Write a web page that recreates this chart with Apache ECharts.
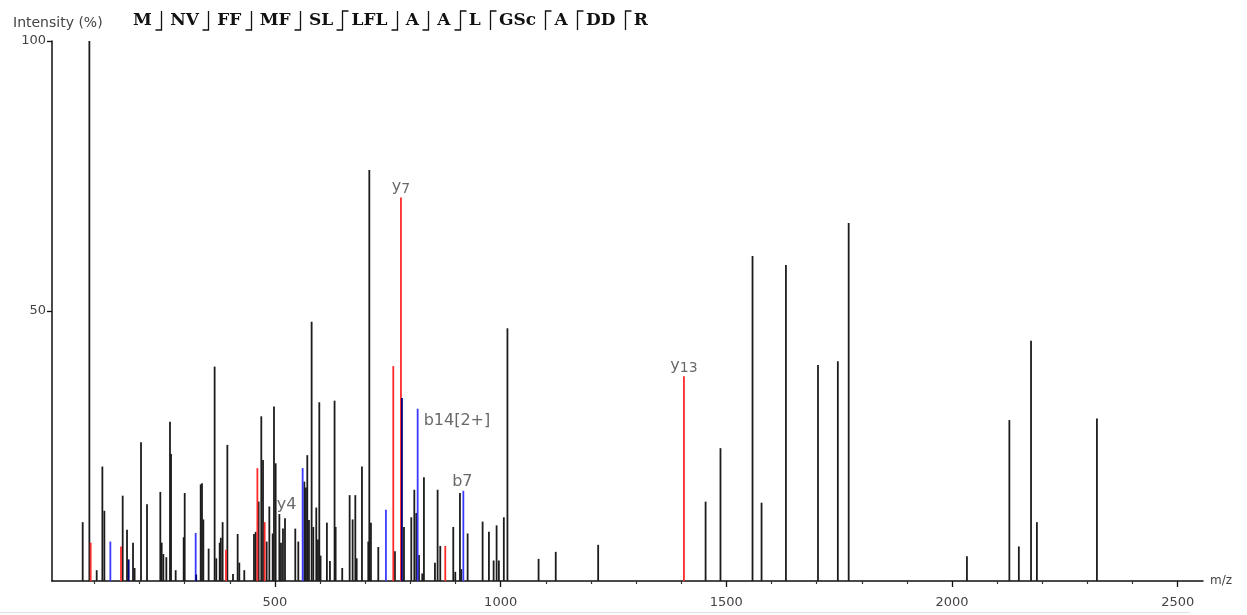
<!DOCTYPE html>
<html>
<head>
<meta charset="utf-8">
<script src="https://cdn.jsdelivr.net/npm/echarts@6/dist/echarts.min.js"></script>
<style>
  html, body { margin: 0; padding: 0; background: #fff; }
  #chart { width: 1247px; height: 615px; }
</style>
</head>
<body>
<div id="chart"></div>
<script>
// peaks (m/z, relative intensity %)
var blackMz = [74, 88.8, 105, 117.6, 122, 162.6, 172.2, 185.5, 189, 203.2, 216.5, 246, 249, 252.7, 259.3,
  267.4, 269.7, 280, 297.7, 300, 335.4, 338.3, 341.3, 353, 366.3, 370, 377.5, 380, 384, 394.5, 407,
  417.3, 421, 432, 453.5, 457.2, 463.8, 469.7, 473.5, 481.6, 487.5, 494.9, 497.8, 501.5, 509.7, 513.3,
  517.7, 522.2, 545, 551.7, 565, 568.6, 571.6, 575.3, 581.2, 584.9, 591.5, 595.2, 598.2, 601, 615,
  621.8, 632, 634.4, 649, 665.4, 672, 678, 681, 692.7, 706.7, 709, 712.6, 728.9, 765.8, 785.8, 802,
  808.7, 813.1, 819, 826.3, 830, 854.4, 860.3, 866.2, 895, 899.5, 909.8, 912.8, 926.8, 960, 974,
  984.4, 991, 996, 1007, 1015, 1084, 1122, 1216, 1454, 1487, 1558, 1578, 1632, 1703, 1747, 1771,
  2033, 2127, 2148, 2175, 2188, 2321];
var blackInt = [10.9, 100, 2.0, 21.2, 13.0, 15.8, 9.5, 7.1, 2.4, 25.7, 14.2, 16.5, 7.1, 5.0, 4.4,
  29.5, 23.5, 2.0, 8.1, 16.3, 17.9, 18.1, 11.4, 6.0, 39.7, 4.2, 7.1, 8.0, 10.9, 25.2, 1.3,
  8.7, 3.4, 2.0, 8.7, 9.1, 14.7, 30.5, 22.4, 7.3, 13.8, 8.8, 32.3, 21.8, 12.4, 7.1,
  9.7, 11.6, 9.7, 7.3, 18.4, 17.3, 23.3, 11.3, 48.0, 10.0, 13.6, 7.7, 33.1, 4.7, 10.8,
  3.7, 33.4, 10.0, 2.4, 15.9, 11.4, 15.9, 4.2, 21.2, 7.3, 76.1, 10.8, 6.3, 5.5, 10.0, 11.8,
  16.9, 12.6, 4.8, 1.4, 19.2, 3.4, 16.9, 6.5, 10.0, 1.7, 16.3, 2.2, 8.8, 11.0, 9.1,
  3.8, 10.3, 3.8, 11.8, 46.8, 4.1, 5.4, 6.7, 14.7, 24.6, 60.2, 14.5, 58.5, 40.0, 40.7, 66.3,
  4.6, 29.8, 6.4, 44.5, 10.9, 30.1];

var redMz = [91.7, 158.9, 391.5, 461, 477.2, 762.1, 779.1, 877.3, 1406];
var redInt = [7.1, 6.4, 5.8, 20.9, 10.9, 39.8, 71.0, 6.5, 37.9];

var blueMz = [135.3, 324.3, 561.3, 745.8, 816.1, 917.3];
var blueInt = [7.3, 8.9, 20.9, 13.2, 31.9, 16.7];

var navyMz = [175.9, 781.3, 325.5];
var navyInt = [4.0, 33.9, 1.2];

// annotated fragment ions
var ionNames = ['y7', 'y13', 'b14[2+]', 'b7', 'y4'];
var ionMz = [779.1, 1406, 816.1, 917.3, 477.2];
var ionInt = [71.0, 37.9, 31.9, 16.7, 10.9];

var xTicks = [500, 1000, 1500, 2000, 2500];
var yTicks = [50, 100];

// sequence header with fragment marks after each group
var seqGroups = ['M', 'NV', 'FF', 'MF', 'SL', 'LFL', 'A', 'A', 'L', 'GSc', 'A', 'DD', 'R'];
var seqMarks = ['b', 'b', 'b', 'b', 'by', 'b', 'b', 'by', 'y', 'y', 'y', 'y'];

function zip(a, b) {
  return a.map(function (v, i) { return [v, b[i]]; });
}

function stick(params, api) {
  var p0 = api.coord([api.value(0), 0]);
  var p1 = api.coord([api.value(0), api.value(1)]);
  return {
    type: 'line',
    shape: { x1: p0[0], y1: p0[1], x2: p1[0], y2: p1[1] },
    style: { stroke: api.visual('color'), lineWidth: 1.8 }
  };
}

function stickSeries(data, color, z) {
  return {
    type: 'custom',
    renderItem: stick,
    data: data,
    encode: { x: 0, y: 1 },
    itemStyle: { color: color },
    z: z,
    silent: true
  };
}

var labelPlace = {
  'y7': { position: [0, -1], align: 'center', verticalAlign: 'bottom' },
  'y13': { position: [0, -1], align: 'center', verticalAlign: 'bottom' },
  'b14[2+]': { position: [6, 12], align: 'left', verticalAlign: 'middle' },
  'b7': { position: [-1, -1], align: 'center', verticalAlign: 'bottom' },
  'y4': { position: [12, -9], align: 'left', verticalAlign: 'bottom' }
};
var subscripted = ['y7', 'y13'];

function ionLabel(p) {
  var n = p.name;
  if (subscripted.indexOf(n) >= 0) return '{n|' + n.charAt(0) + '}{s|' + n.slice(1) + '}';
  return '{n|' + n + '}';
}

var ionData = ionNames.map(function (n, i) {
  var pl = labelPlace[n];
  return {
    name: n,
    value: [ionMz[i], ionInt[i]],
    label: { position: pl.position, align: pl.align, verticalAlign: pl.verticalAlign }
  };
});

function buildHeader() {
  var font = 'bold 17px "DejaVu Serif"';
  var ctx = document.createElement('canvas').getContext('2d');
  ctx.font = font;
  var widths = seqGroups.map(function (g) { return ctx.measureText(g).width; });
  var total = widths.reduce(function (a, b) { return a + b; }, 0);
  var x0 = 133, x1 = 648;
  var gap = (x1 - x0 - total) / seqMarks.length;
  var top = 11, bot = 30, hook = 6;
  var els = [];
  var x = x0;
  seqGroups.forEach(function (g, i) {
    els.push({
      type: 'text', x: x, y: 21,
      style: { text: g, font: font, fill: '#111', textVerticalAlign: 'middle' }
    });
    x += widths[i];
    if (i < seqMarks.length) {
      var sx = Math.round(x + gap / 2) + 0.5;
      var m = seqMarks[i], pts = [];
      if (m.indexOf('b') >= 0) pts.push([sx - hook, bot]);
      pts.push([sx, bot], [sx, top]);
      if (m.indexOf('y') >= 0) pts.push([sx + hook, top]);
      els.push({
        type: 'polyline',
        shape: { points: pts },
        style: { stroke: '#111', lineWidth: 1.3, fill: null }
      });
      x += gap;
    }
  });
  return els;
}

var minorTicks = [];
for (var t = 100; t <= 2500; t += 100) if (t % 500) minorTicks.push(t);

var chart = echarts.init(document.getElementById('chart'));

var option = {
  animation: false,
  grid: { left: 52, right: 44, top: 41, bottom: 34 },
  xAxis: [{
    type: 'value',
    min: 6,
    max: 2556,
    name: 'm/z',
    nameGap: 7,
    nameTextStyle: { color: '#444', fontSize: 12, fontFamily: 'DejaVu Sans' },
    axisLine: { lineStyle: { color: '#111', width: 1.5 } },
    axisTick: { customValues: xTicks, length: 6, lineStyle: { color: '#111', width: 1.3 } },
    axisLabel: {
      customValues: xTicks, color: '#444', fontSize: 13, fontFamily: 'DejaVu Sans', margin: 15,
      formatter: function (v) { return String(v); }
    },
    splitLine: { show: false }
  }, {
    type: 'value',
    min: 6,
    max: 2556,
    position: 'bottom',
    axisLine: { show: false },
    axisTick: { customValues: minorTicks, length: 3, lineStyle: { color: '#333', width: 1.2 } },
    axisLabel: { show: false },
    splitLine: { show: false }
  }],
  yAxis: {
    type: 'value',
    min: 0,
    max: 100,
    axisLine: { show: true, lineStyle: { color: '#111', width: 1.5 } },
    axisTick: { show: true, customValues: yTicks, length: 5, lineStyle: { color: '#111', width: 1.3 } },
    axisLabel: { customValues: yTicks, color: '#444', fontSize: 13, fontFamily: 'DejaVu Sans', margin: 6 },
    splitLine: { show: false }
  },
  graphic: [{
    type: 'text', x: 13, y: 23,
    style: { text: 'Intensity (%)', font: '14px "DejaVu Sans"', fill: '#444', textVerticalAlign: 'middle' }
  }, {
    type: 'line',
    shape: { x1: 0, y1: 612.5, x2: 1190, y2: 612.5 },
    style: { stroke: '#e4e4e4', lineWidth: 1 }
  }].concat(buildHeader()),
  series: [
    stickSeries(zip(blackMz, blackInt), '#1c1c1c', 2),
    stickSeries(zip(redMz, redInt), '#ff2a2a', 3),
    stickSeries(zip(blueMz, blueInt), '#3a3aff', 3),
    stickSeries(zip(navyMz, navyInt), '#00007a', 4),
    {
      type: 'scatter',
      data: ionData,
      symbolSize: 0,
      silent: true,
      z: 5,
      label: {
        show: true,
        formatter: ionLabel,
        rich: {
          n: { fontSize: 16, color: '#444', fontFamily: 'DejaVu Sans' },
          s: { fontSize: 14, color: '#444', fontFamily: 'DejaVu Sans', padding: [5, 0, 0, 0] }
        }
      }
    }
  ]
};

chart.setOption(option);
</script>
</body>
</html>
